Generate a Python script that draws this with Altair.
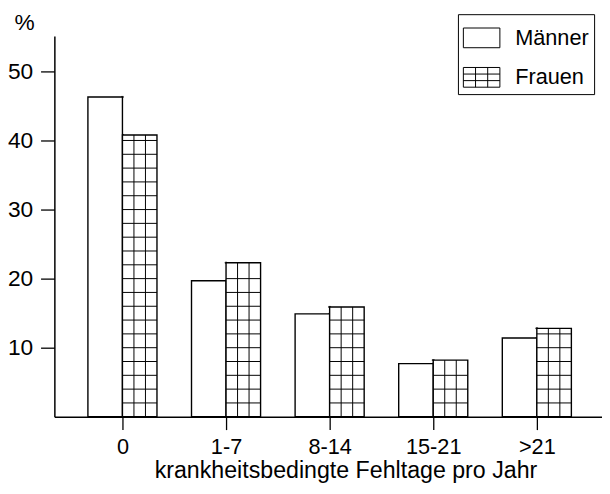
import altair as alt
import pandas as pd

categories = ["0", "1-7", "8-14", "15-21", ">21"]
maenner = [46.3, 19.7, 14.9, 7.7, 11.4]
frauen = [40.8, 22.3, 15.9, 8.2, 12.8]
series = ["Männer", "Frauen"]

FONT = "Liberation Sans"
BW = 1 / 3  # bar width in category units

rows = []
for i, c in enumerate(categories):
    rows.append({"idx": i, "cat": c, "series": series[0], "value": maenner[i], "x0": i - BW, "x1": i})
    rows.append({"idx": i, "cat": c, "series": series[1], "value": frauen[i], "x0": i, "x1": i + BW})
bars_df = pd.DataFrame(rows)

# grid pattern for Frauen bars
hrows, vrows = [], []
for i, v in enumerate(frauen):
    k = 2
    while k < v - 0.3:
        hrows.append({"y": k, "x0": i, "x1": i + BW})
        k += 2
    for f in (1, 2):
        vrows.append({"x": i + f * BW / 3, "y0": 0, "y1": v})
h_df = pd.DataFrame(hrows)
v_df = pd.DataFrame(vrows)

label_expr = "[" + ",".join("'" + c + "'" for c in categories) + "][datum.value]"

xscale = alt.Scale(domain=[-0.657, 4.629], nice=False, zero=False)
yscale = alt.Scale(domain=[0, 55.14], nice=False)

xaxis = alt.Axis(values=list(range(len(categories))), labelExpr=label_expr,
                 title="krankheitsbedingte Fehltage pro Jahr", grid=False,
                 tickSize=13, labelPadding=7, labelFontSize=22,
                 titleX=295, titleY=62,
                 titleBaseline="alphabetic", titleAnchor="start", titleAlign="center",
                 titleFontSize=23.5)
yaxis = alt.Axis(values=[10, 20, 30, 40, 50], title="%", grid=False, tickSize=14,
                 labelPadding=8, titleAngle=0, titleX=-41, titleY=-6,
                 titleAlign="left", titleBaseline="alphabetic")

shape_range = [
    "M-1,-0.54H1V0.54H-1Z",
    "M-1,-0.54H1V0.54H-1Z M-0.333,-0.54V0.54 M0.333,-0.54V0.54 M-1,-0.18H1 M-1,0.18H1",
]

legend_layer = alt.Chart(bars_df).mark_point(filled=False, size=4, color="black", strokeWidth=1).encode(
    x=alt.X("idx:Q", scale=xscale, axis=xaxis),
    y=alt.Y("value:Q", scale=yscale, axis=yaxis),
    shape=alt.Shape("series:N", sort=series,
                    scale=alt.Scale(domain=series, range=shape_range),
                    legend=alt.Legend(title=None, orient="none", legendX=409, legendY=-22,
                                      symbolSize=1369, symbolStrokeWidth=1,
                                      symbolStrokeColor="black", symbolFillColor="white",
                                      symbolOpacity=1,
                                      labelFontSize=22, labelFont=FONT, labelColor="black",
                                      labelOffset=15, rowPadding=9,
                                      padding=5, strokeColor="black", fillColor="white")),
)

bars = alt.Chart(bars_df).mark_rect(fill="white", stroke="black", strokeWidth=1.4).encode(
    x=alt.X("x0:Q", scale=xscale),
    x2="x1:Q",
    y=alt.Y("value:Q", scale=yscale),
    y2=alt.datum(0),
)

hlines = alt.Chart(h_df).mark_rule(color="black", strokeWidth=1).encode(
    x=alt.X("x0:Q", scale=xscale), x2="x1:Q", y=alt.Y("y:Q", scale=yscale)
)
vlines = alt.Chart(v_df).mark_rule(color="black", strokeWidth=1).encode(
    x=alt.X("x:Q", scale=xscale), y=alt.Y("y0:Q", scale=yscale), y2="y1:Q"
)

chart = alt.layer(legend_layer, bars, hlines, vlines).properties(
    width=555, height=386,
    padding={"left": 47, "top": 25, "right": 0, "bottom": 75},
    autosize=alt.AutoSizeParams(type="none"),
).configure_view(stroke=None).configure_axis(
    domainColor="black", domainWidth=1.5, tickColor="black", tickWidth=1.3,
    labelFont=FONT, labelFontSize=23, labelColor="black",
    titleFont=FONT, titleFontSize=23, titleColor="black", titleFontWeight="normal",
)

chart.save("out.html", embed_options={"renderer": "svg", "actions": False})
